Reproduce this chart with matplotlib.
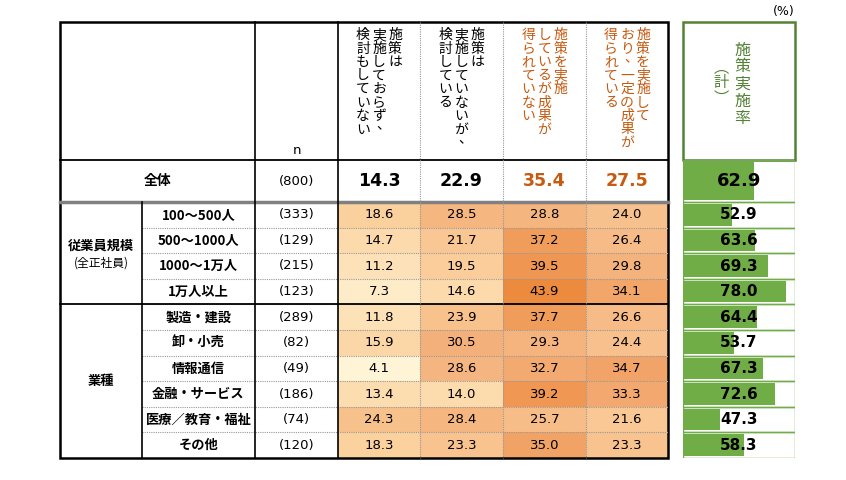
import matplotlib
matplotlib.use("Agg")
import matplotlib.pyplot as plt
from matplotlib.patches import Rectangle
from matplotlib.colors import LinearSegmentedColormap

plt.rcParams["font.family"] = "Noto Sans CJK JP"

headers = [["施策は", "実施しておらず、", "検討もしていない"],
           ["施策は", "実施していないが、", "検討している"],
           ["施策を実施", "しているが成果が", "得られていない"],
           ["施策を実施して", "おり、一定の成果が", "得られている"]]
header_colors = ["black", "black", "#c55a11", "#c55a11"]
total_label = "全体"
total_n = "(800)"
total_vals = [14.3, 22.9, 35.4, 27.5]
total_rate = 62.9
group_names = ["従業員規模", "業種"]
group_sub = ["(全正社員)", ""]
group_sizes = [4, 6]
row_labels = ["100～500人", "500～1000人", "1000～1万人", "1万人以上",
              "製造・建設", "卸・小売", "情報通信", "金融・サービス", "医療／教育・福祉", "その他"]
row_n = ["(333)", "(129)", "(215)", "(123)", "(289)", "(82)", "(49)", "(186)", "(74)", "(120)"]
row_vals = [[18.6, 28.5, 28.8, 24.0],
            [14.7, 21.7, 37.2, 26.4],
            [11.2, 19.5, 39.5, 29.8],
            [7.3, 14.6, 43.9, 34.1],
            [11.8, 23.9, 37.7, 26.6],
            [15.9, 30.5, 29.3, 24.4],
            [4.1, 28.6, 32.7, 34.7],
            [13.4, 14.0, 39.2, 33.3],
            [24.3, 28.4, 25.7, 21.6],
            [18.3, 23.3, 35.0, 23.3]]
row_rates = [52.9, 63.6, 69.3, 78.0, 64.4, 53.7, 67.3, 72.6, 47.3, 58.3]

W, H = 846, 480
fig = plt.figure(figsize=(W/100, H/100), dpi=100)
ax = fig.add_axes([0, 0, 1, 1])
ax.set_xlim(0, W); ax.set_ylim(H, 0); ax.axis("off")

cmap = LinearSegmentedColormap.from_list("o", ["#fff4d6", "#fbd3a0", "#f4b07a", "#ec8a3e"])
def col(v):
    return cmap((v - 4) / 40)

xs = [60, 142, 255, 338, 420, 503, 586, 668]
top, hb, tb, bot = 22, 160, 202, 458
rh = (bot - tb) / 10
gx0, gx1 = 683, 795

for i, vals in enumerate(row_vals):
    y = tb + i * rh
    for j, v in enumerate(vals):
        ax.add_patch(Rectangle((xs[3+j], y), xs[4+j]-xs[3+j], rh, color=col(v), lw=0))
        ax.text((xs[3+j]+xs[4+j])/2, y+rh/2, f"{v:.1f}", ha="center", va="center", fontsize=9.5, family="DejaVu Sans")
    ax.text((xs[1]+xs[2])/2, y+rh/2, row_labels[i], ha="center", va="center", fontsize=9.5, fontweight="bold")
    ax.text((xs[2]+xs[3])/2, y+rh/2, row_n[i], ha="center", va="center", fontsize=9.5, family="DejaVu Sans")
    if i > 0:
        ax.plot([xs[1], xs[-1]], [y, y], color="#999999", lw=0.8, ls=(0, (1, 1)))

ty = (hb + tb) / 2
ax.text((xs[0]+xs[2])/2, ty, total_label, ha="center", va="center", fontsize=10, fontweight="bold")
ax.text((xs[2]+xs[3])/2, ty, total_n, ha="center", va="center", fontsize=9.5, family="DejaVu Sans")
for j, v in enumerate(total_vals):
    ax.text((xs[3+j]+xs[4+j])/2, ty, f"{v:.1f}", ha="center", va="center", fontsize=12.5,
            fontweight="bold", color=header_colors[j], family="DejaVu Sans")

start = 0
for g, size in enumerate(group_sizes):
    y0 = tb + start * rh; y1 = y0 + size * rh
    cy = (y0 + y1) / 2
    if group_sub[g]:
        ax.text((xs[0]+xs[1])/2, cy-8, group_names[g], ha="center", va="center", fontsize=9.5, fontweight="bold")
        ax.text((xs[0]+xs[1])/2, cy+10, group_sub[g], ha="center", va="center", fontsize=8.5)
    else:
        ax.text((xs[0]+xs[1])/2, cy, group_names[g], ha="center", va="center", fontsize=9.5, fontweight="bold")
    if start > 0:
        ax.plot([xs[0], xs[-1]], [y0, y0], color="black", lw=1.3)
    start += size

ch = 13.5
for j, lines in enumerate(headers):
    cx = (xs[3+j] + xs[4+j]) / 2
    n = len(lines)
    for k, line in enumerate(lines):
        x = cx + (n-1)/2*16 - k*16
        for m, c in enumerate(line):
            if c == "、":
                ax.text(x+4, 30 + m*ch, c, ha="center", va="center", fontsize=10, color=header_colors[j])
            else:
                ax.text(x, 35 + m*ch, c, ha="center", va="center", fontsize=10, color=header_colors[j])
ax.text((xs[2]+xs[3])/2, 150, "n", ha="center", va="center", fontsize=9.5, family="DejaVu Sans")

ax.add_patch(Rectangle((xs[0], top), xs[-1]-xs[0], bot-top, fill=False, ec="black", lw=1.8))
ax.plot([xs[0], xs[-1]], [hb, hb], color="black", lw=1.3)
ax.plot([xs[0], xs[-1]], [tb, tb], color="#808080", lw=2.5)
ax.plot([xs[1], xs[1]], [tb, bot], color="black", lw=1.2)
ax.plot([xs[2], xs[2]], [top, bot], color="black", lw=1.2)
ax.plot([xs[3], xs[3]], [top, bot], color="black", lw=1.2)
for x in xs[4:7]:
    ax.plot([x, x], [top, bot], color="#999999", lw=0.8, ls=(0, (1, 1)))

green = "#70ad47"
ax.add_patch(Rectangle((gx0, top), gx1-gx0, hb-top, fill=False, ec="#548235", lw=1.8))
for m, c in enumerate("施策実施率"):
    ax.text(742, 50 + m*17, c, ha="center", va="center", fontsize=11.5, color="#548235")
for m, c in enumerate("︵計︶"):
    ax.text(721, 68 + m*15, c, ha="center", va="center", fontsize=11, color="#548235")
ax.text(gx1, 12, "(%)", ha="right", va="center", fontsize=9, family="DejaVu Sans")

rates = [total_rate] + row_rates
ys = [hb] + [tb + i*rh for i in range(10)]
hs = [tb-hb] + [rh]*10
bax = fig.add_axes([gx0/W, 1 - bot/H, (gx1-gx0)/W, (bot-hb)/H])
bax.set_xlim(30, 82); bax.set_ylim(bot, hb); bax.axis("off")
bax.barh([y+h/2 for y, h in zip(ys, hs)], [r-30 for r in rates], left=30,
         height=[h-4 for h in hs], color=green)
for k, (y, h, r) in enumerate(zip(ys, hs, rates)):
    bax.text(56, y+h/2, f"{r:.1f}", ha="center", va="center", fontweight="bold",
             fontsize=13 if k == 0 else 11, family="DejaVu Sans")
    bax.add_patch(Rectangle((30, y), 52, h, fill=False, ec=green, lw=1))

fig.savefig("out.png", dpi=100)
